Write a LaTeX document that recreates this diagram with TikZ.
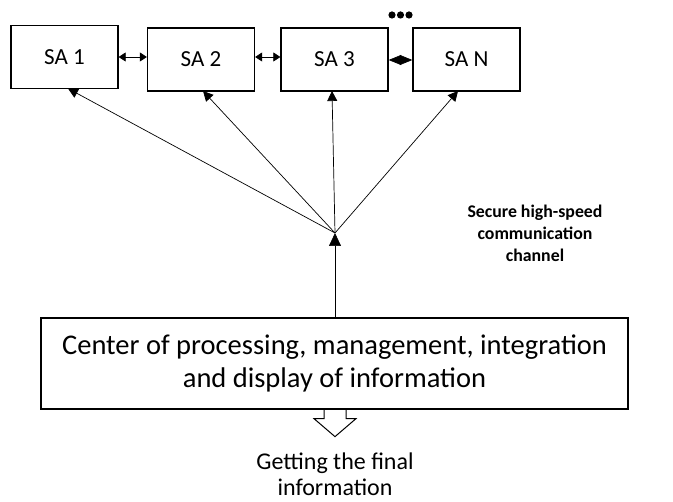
\documentclass[tikz,border=0pt]{standalone}
\usepackage{fontspec}
\setmainfont{Carlito}
\usetikzlibrary{arrows.meta,calc}
\begin{document}
\begin{tikzpicture}[x=1pt,y=-1pt,
  sabox/.style={draw,line width=1.3pt,minimum width=107pt,minimum height=63pt,inner sep=0pt,font=\fontsize{23}{26}\selectfont},
  fan/.style={line width=0.7pt,-{Triangle[length=10pt,width=10pt]}},
  link/.style={line width=0.7pt,{Triangle[length=7pt,width=9pt]}-{Triangle[length=7pt,width=9pt]}}]
\useasboundingbox (0,0) rectangle (673,502);
\node[sabox] (sa1) at (64.5,57) {SA 1};
\node[sabox] (sa2) at (201,59.5) {SA 2};
\node[sabox] (sa3) at (334.5,59.5) {SA 3};
\node[sabox] (san) at (466.5,59.5) {SA N};
\fill (392,15) circle (3.6) (400.5,15) circle (3.6) (409,15) circle (3.6);
\draw[link] (sa1.east |- 0,57) -- (sa2.west |- 0,57);
\draw[link] (sa2.east |- 0,57) -- (sa3.west |- 0,57);
\draw[line width=0.7pt,{Triangle[length=12.5pt,width=10pt]}-{Triangle[length=12.5pt,width=10pt]}] (sa3.east |- 0,60) -- (san.west |- 0,60);
\coordinate (hub) at (335,233);
\draw[fan] (hub) -- (68,88.5);
\draw[fan] (hub) -- (203,91);
\draw[fan] (hub) -- (332,91);
\draw[fan] (hub) -- (458,91);
\node[draw,line width=1.3pt,minimum width=587pt,minimum height=91pt,align=center,font=\fontsize{28.5}{33}\selectfont] (center) at (334.5,363.5) {Center of processing, management, integration\\and display of information};
\draw[line width=0.7pt,-{Triangle[length=13pt,width=12pt]}] (center.north -| hub) -- (hub);
\coordinate (outtop) at (center.south -| hub);
\draw[line width=1pt,line join=miter] ($(outtop)+(-11,0)$) -- ++(0,9) -- ++(-10,0) -- ($(outtop)+(0,27)$) -- ($(outtop)+(21,9)$) -- ++(-10,0) -- ++(0,-9);
\node[font=\fontsize{24}{26}\selectfont,align=center] (final) at (335,474) {Getting the final\\information};
\node[font=\bfseries\fontsize{17.8}{22}\selectfont,align=center] (chan) at (535,233) {Secure high-speed\\communication\\channel};
\end{tikzpicture}
\end{document}
